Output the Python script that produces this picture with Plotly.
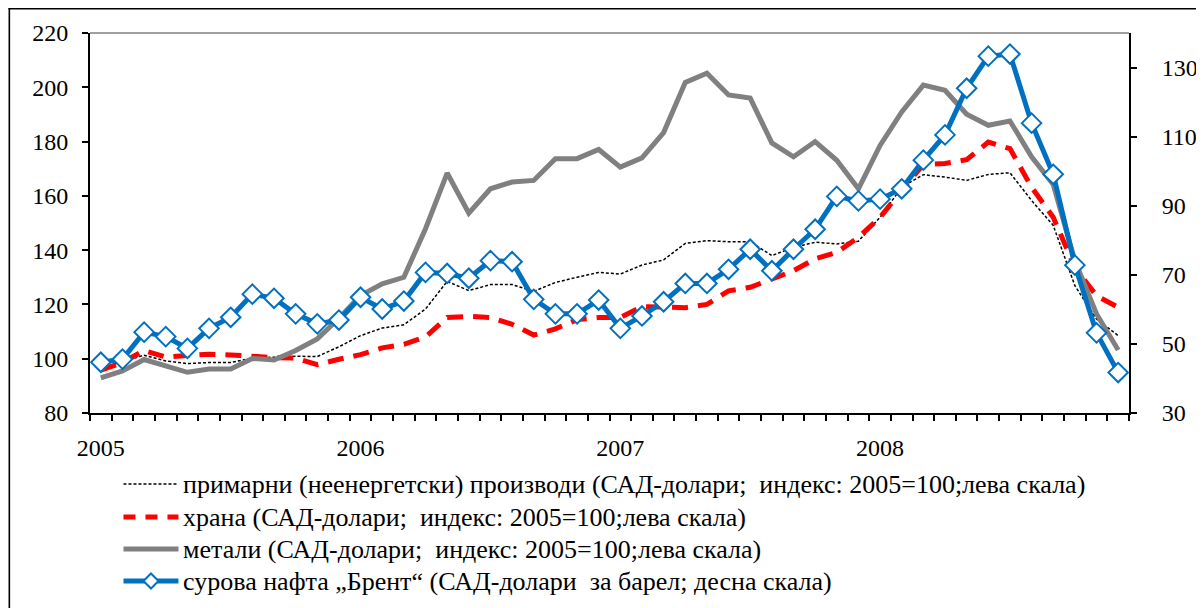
import plotly.graph_objects as go

months = [f"{y}-{m:02d}" for y in range(2005, 2009) for m in range(1, 13)]
year_labels = ["2005", "2006", "2007", "2008"]

primary = [96.5, 98.8, 101.3, 99.2, 98.2, 98.6, 98.6, 100.2, 100.5, 100.9, 100.8, 104.4,
           108.5, 111.3, 112.5, 118.3, 128.5, 125.1, 127.3, 127.3, 124.8, 128.1, 130.0, 131.8,
           131.2, 134.5, 136.4, 142.5, 143.5, 143.1, 143.1, 138.0, 141.0, 142.9, 142.3, 143.3,
           152.1, 163.2, 167.8, 166.9, 165.7, 167.9, 168.5, 158.3, 149.1, 126.9, 114.6, 108.5]
food = [95.8, 98.6, 103.0, 100.6, 101.2, 101.6, 101.4, 100.8, 100.4, 100.2, 97.8, 99.8,
        101.5, 104.0, 105.3, 108.0, 115.2, 115.6, 115.2, 112.7, 108.7, 111.0, 114.4, 115.2,
        115.2, 119.2, 119.2, 118.8, 120.0, 125.0, 126.3, 129.4, 132.4, 136.8, 139.2, 144.7,
        152.1, 162.0, 171.6, 171.9, 173.3, 179.8, 177.4, 163.2, 152.1, 133.6, 123.2, 118.9]
metals = [92.9, 95.5, 99.7, 97.5, 95.0, 96.2, 96.2, 100.1, 99.5, 103.0, 107.3, 114.9,
          123.3, 127.6, 130.0, 147.9, 168.4, 153.6, 162.6, 165.1, 165.7, 173.7, 173.7, 177.1,
          170.6, 174.0, 183.3, 201.8, 205.2, 197.2, 196.0, 179.5, 174.4, 180.0, 173.1, 162.6,
          178.6, 190.9, 200.8, 198.9, 190.1, 186.0, 187.6, 174.4, 164.2, 136.1, 116.5, 103.2]
brent = [44.7, 45.6, 53.4, 52.1, 48.7, 54.5, 57.7, 64.4, 63.2, 58.7, 55.8, 56.9,
         63.5, 60.1, 62.4, 70.7, 70.4, 69.0, 74.1, 73.8, 62.9, 58.7, 58.7, 62.7,
         54.5, 58.1, 62.2, 67.5, 67.5, 71.6, 77.4, 71.2, 77.4, 83.2, 92.7, 91.4,
         91.9, 94.9, 103.2, 110.5, 124.0, 133.3, 133.9, 113.9, 99.1, 72.8, 53.2, 41.7]

names = [
    "примарни (неенергетски) производи (САД-долари;\u00a0 индекс: 2005=100;лева скала)",
    "храна (САД-долари;\u00a0 индекс: 2005=100;лева скала)",
    "метали (САД-долари;\u00a0 индекс: 2005=100;лева скала)",
    "сурова нафта „Брент“ (САД-долари\u00a0 за барел; десна скала)",
]

FONT = "Liberation Serif, Times New Roman, serif"
FS_TICK = 24
FS_LEG = 26

# The page has an 8px body margin; figure coordinates = page coordinates - 8.
W, H = 1196, 600
L, R, T, B = 81.5, 1121, 25, 405
PW, PH = R - L, B - T


def px(page_x):
    return (page_x - 8 - L) / PW


def py(page_y):
    return (B - (page_y - 8)) / PH


styles = [
    dict(color="black", width=1.5, dash="3px,2px"),
    dict(color="#FF0000", width=5, dash="16px,10px"),
    dict(color="#808080", width=5),
    dict(color="#0070C0", width=5),
]

fig = go.Figure()
fig.add_trace(go.Scatter(x=months, y=primary, name=names[0], mode="lines", line=styles[0]))
fig.add_trace(go.Scatter(x=months, y=food, name=names[1], mode="lines", line=styles[1]))
fig.add_trace(go.Scatter(x=months, y=metals, name=names[2], mode="lines", line=styles[2]))
fig.add_trace(go.Scatter(x=months, y=brent, name=names[3], mode="lines+markers",
                         line=styles[3],
                         marker=dict(symbol="diamond", size=15, color="white",
                                     line=dict(color="#0070C0", width=2)),
                         yaxis="y2"))

ticktext = [year_labels[i // 12] if i % 12 == 0 else "" for i in range(len(months))]

# legend drawn as shapes + annotations (page coordinates of the reference)
row_y = [484, 517, 549, 581]
sym_x0, sym_x1, text_x = 123, 178, 181
legend_dash = ["3px,2px", "12px,10px", "solid", "solid"]
shapes = [
    dict(type="line", xref="paper", yref="paper", x0=0, x1=1, y0=1, y1=1,
         line=dict(color="#404040", width=1.2)),
    dict(type="line", xref="paper", yref="paper",
         x0=(0 - L) / PW, x1=(W - L) / PW, y0=(B - 0.8) / PH, y1=(B - 0.8) / PH,
         line=dict(color="black", width=1.6)),
    dict(type="line", xref="paper", yref="paper",
         x0=(0.8 - L) / PW, x1=(0.8 - L) / PW, y0=B / PH, y1=(B - H) / PH,
         line=dict(color="black", width=1.6)),
]
annotations = []
for i, (name, st, yy) in enumerate(zip(names, styles, row_y)):
    shapes.append(dict(type="line", xref="paper", yref="paper",
                       x0=px(sym_x0), x1=px(sym_x1), y0=py(yy), y1=py(yy),
                       line=dict(color=st["color"], width=st["width"], dash=legend_dash[i])))
    annotations.append(dict(text=name, xref="paper", yref="paper", x=px(text_x), y=py(yy),
                            xanchor="left", yanchor="middle", showarrow=False,
                            font=dict(family=FONT, size=FS_LEG, color="black")))
# diamond marker of the Brent legend entry
cx, cy = px((sym_x0 + sym_x1) / 2), py(row_y[3])
dx, dy = 7.5 / PW, 7.5 / PH
shapes.append(dict(type="path", xref="paper", yref="paper",
                   path=f"M {cx-dx},{cy} L {cx},{cy+dy} L {cx+dx},{cy} L {cx},{cy-dy} Z",
                   fillcolor="white", line=dict(color="#0070C0", width=2)))

fig.update_layout(
    width=W, height=H,
    margin=dict(l=L, r=W - R, t=T, b=H - B, autoexpand=False),
    paper_bgcolor="white", plot_bgcolor="white",
    font=dict(family=FONT, size=FS_TICK, color="black"),
    showlegend=False,
    xaxis=dict(type="category", categoryorder="array", categoryarray=months,
               range=[-0.5, len(months) - 0.5],
               tickmode="array", tickvals=months, ticktext=ticktext, tickangle=0,
               tickson="boundaries", ticks="outside", ticklen=6, tickwidth=1.5,
               tickcolor="black", showline=True, linecolor="black", linewidth=1.8,
               showgrid=False, zeroline=False, ticklabelstandoff=12,
               tickfont=dict(family=FONT, size=FS_TICK)),
    yaxis=dict(range=[80, 220], dtick=20, tick0=80, ticks="outside", ticklen=6,
               tickwidth=1.5, tickcolor="black", showline=True, linecolor="black",
               linewidth=1.8, showgrid=False, zeroline=False, ticklabelstandoff=9,
               tickfont=dict(family=FONT, size=FS_TICK)),
    yaxis2=dict(range=[30, 140], tickmode="array", tickvals=[30, 50, 70, 90, 110, 130],
                overlaying="y", side="right", ticks="outside", ticklen=6,
                tickwidth=1.5, tickcolor="black", showline=True, linecolor="black",
                linewidth=1.8, showgrid=False, zeroline=False, ticklabelstandoff=20,
                tickfont=dict(family=FONT, size=FS_TICK)),
    shapes=shapes,
    annotations=annotations,
)

fig.write_html("out.html")
